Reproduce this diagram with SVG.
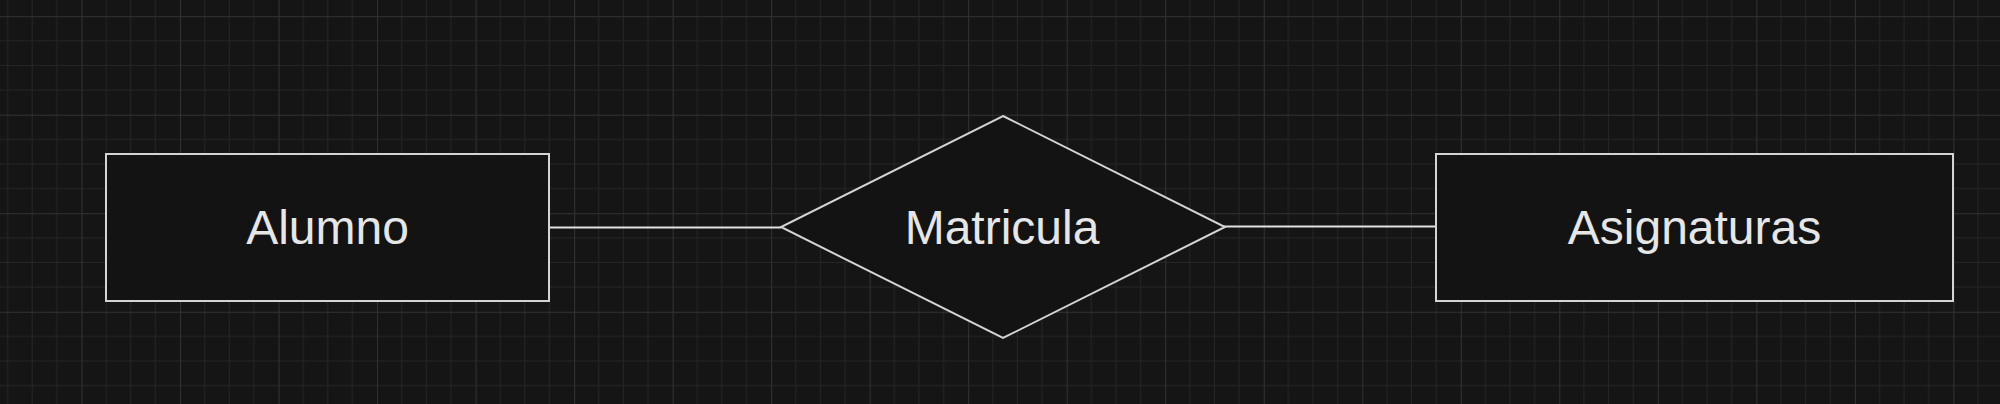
<svg xmlns="http://www.w3.org/2000/svg" width="2000" height="404" viewBox="0 0 2000 404">
  <defs>
    <pattern id="grid" patternUnits="userSpaceOnUse" x="81.5" y="16.2" width="98.52" height="98.52">
      <path d="M24.63 0V98.52M49.26 0V98.52M73.89 0V98.52M0 24.63H98.52M0 49.26H98.52M0 73.89H98.52" stroke="#252525" stroke-width="1" fill="none"/>
      <path d="M0.5 0V98.52M0 0.5H98.52" stroke="#323232" stroke-width="1" fill="none"/>
    </pattern>
    <style>
      .shape { fill: #131313; stroke: #d4d4d4; stroke-width: 2; }
      .edge { stroke: #e2e2e2; stroke-width: 2; fill: none; }
      .label { font-family: "Liberation Sans", Arial, sans-serif; font-size: 48px; fill: #e6e6e6; text-anchor: middle; }
    </style>
  </defs>
  <rect width="2000" height="404" fill="#151515"/>
  <rect width="2000" height="404" fill="url(#grid)"/>
  <g id="connectors">
    <line class="edge" x1="549" y1="227.5" x2="781" y2="227.5"/>
    <line class="edge" x1="1205" y1="226.5" x2="1436" y2="226.5"/>
  </g>
  <g id="alumno">
    <rect class="shape" x="106" y="154" width="443" height="147"/>
    <text class="label" x="327.5" y="244">Alumno</text>
  </g>
  <g id="matricula">
    <polygon class="shape" points="1003,116 1225,227 1003,338 781,227"/>
    <text class="label" x="1002" y="244">Matricula</text>
  </g>
  <g id="asignaturas">
    <rect class="shape" x="1436" y="154" width="517" height="147"/>
    <text class="label" x="1694.5" y="244">Asignaturas</text>
  </g>
</svg>
